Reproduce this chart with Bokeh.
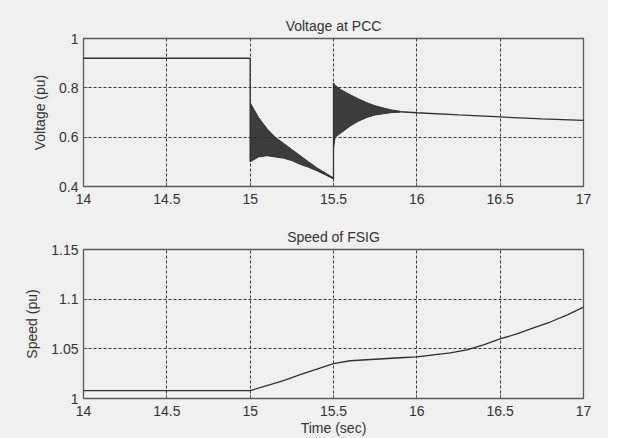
from bokeh.plotting import figure
from bokeh.models import FixedTicker
from bokeh.layouts import column
from bokeh.embed import file_html
from bokeh.resources import INLINE

# ---------------- data ----------------
x_ticks = [14.0, 14.5, 15.0, 15.5, 16.0, 16.5, 17.0]
x_tick_labels = ["14", "14.5", "15", "15.5", "16", "16.5", "17"]

v_ticks = [0.4, 0.6, 0.8, 1.0]
v_tick_labels = ["0.4", "0.6", "0.8", "1"]

s_ticks = [1.0, 1.05, 1.1, 1.15]
s_tick_labels = ["1", "1.05", "1.1", "1.15"]

# Voltage at PCC: pre-fault level
t_pre = [14.0, 15.0]
v_pre = [0.92, 0.92]

# oscillating burst after fault (envelope)
t_b1 = [15.0, 15.05, 15.1, 15.15, 15.2, 15.25, 15.3, 15.35, 15.4, 15.45, 15.5]
b1_hi = [0.74, 0.68, 0.635, 0.60, 0.575, 0.55, 0.525, 0.50, 0.476, 0.455, 0.435]
b1_lo = [0.50, 0.52, 0.525, 0.52, 0.515, 0.505, 0.49, 0.478, 0.464, 0.448, 0.43]

# oscillating burst after compensation (envelope)
t_b2 = [15.5, 15.51, 15.55, 15.6, 15.65, 15.7, 15.75, 15.8, 15.85, 15.9]
b2_hi = [0.82, 0.81, 0.79, 0.772, 0.755, 0.74, 0.727, 0.718, 0.71, 0.705]
b2_lo = [0.555, 0.60, 0.62, 0.645, 0.665, 0.68, 0.69, 0.695, 0.70, 0.701]

# steady state after oscillations
t_post = [15.9, 16.0, 16.25, 16.5, 16.75, 17.0]
v_post = [0.703, 0.699, 0.69, 0.682, 0.674, 0.668]

# Speed of FSIG
t_speed = [14.0, 15.0, 15.1, 15.2, 15.3, 15.4, 15.5, 15.6, 15.7, 15.8, 15.9,
           16.0, 16.1, 16.2, 16.3, 16.4, 16.5, 16.6, 16.7, 16.8, 16.9, 17.0]
speed = [1.008, 1.008, 1.013, 1.018, 1.024, 1.0295, 1.035, 1.038, 1.039, 1.040, 1.041,
         1.042, 1.044, 1.046, 1.049, 1.054, 1.060, 1.065, 1.071, 1.077, 1.084, 1.092]

# ---------------- style ----------------
BG = "#f0f0ee"
INK = "#303030"
FRAME = "#5a5a5a"
FONT = "Liberation Sans"


def style(p, yticks, ylabels, ylabel, xlabel=None):
    p.background_fill_color = BG
    p.border_fill_color = BG
    p.outline_line_color = FRAME
    p.outline_line_width = 1.3
    p.xaxis.ticker = FixedTicker(ticks=x_ticks)
    p.xaxis.major_label_overrides = dict(zip(x_ticks, x_tick_labels))
    p.yaxis.ticker = FixedTicker(ticks=yticks)
    p.yaxis.major_label_overrides = dict(zip(yticks, ylabels))
    for ax in (p.xaxis[0], p.yaxis[0]):
        ax.axis_line_color = None
        ax.major_tick_in = 4
        ax.major_tick_out = 0
        ax.major_tick_line_color = FRAME
        ax.minor_tick_line_color = None
        ax.major_label_text_font = FONT
        ax.major_label_text_font_size = "14px"
        ax.major_label_text_color = "#333333"
        ax.axis_label_text_font = FONT
        ax.axis_label_text_font_size = "14px"
        ax.axis_label_text_font_style = "normal"
        ax.axis_label_text_color = "#333333"
    p.xaxis.major_label_standoff = 7
    p.yaxis.major_label_standoff = 5
    p.yaxis.axis_label = ylabel
    p.yaxis.axis_label_standoff = 8
    if xlabel:
        p.xaxis.axis_label = xlabel
        p.xaxis.axis_label_standoff = 1
    p.grid.grid_line_color = "#3a3a3a"
    p.grid.grid_line_dash = "3 2"
    p.grid.grid_line_width = 1
    p.title.text_font = FONT
    p.title.text_font_size = "14px"
    p.title.text_font_style = "normal"
    p.title.text_color = "#333333"
    p.title.align = "center"
    p.title.standoff = 9


common = dict(width=608, output_backend="svg", toolbar_location=None,
              min_border_left=83, min_border_right=25)

p1 = figure(height=219, x_range=(14, 17), y_range=(0.4, 1.0),
            title="Voltage at PCC", min_border_top=38, min_border_bottom=33,
            **common)
style(p1, v_ticks, v_tick_labels, "Voltage (pu)")

p1.line(t_pre, v_pre, line_color=INK, line_width=1.3)
p1.segment(x0=[t_pre[-1]], y0=[v_pre[-1]], x1=[t_b1[0]], y1=[b1_lo[0]],
           line_color=INK, line_width=1.3)
p1.varea(x=t_b1, y1=b1_lo, y2=b1_hi, fill_color="#2e2e2e", fill_alpha=0.92)
p1.line(t_b1, b1_hi, line_color=INK, line_width=1)
p1.line(t_b1, b1_lo, line_color=INK, line_width=1)
p1.segment(x0=[t_b1[-1]], y0=[b1_lo[-1]], x1=[t_b2[0]], y1=[b2_hi[0]],
           line_color=INK, line_width=1.3)
p1.varea(x=t_b2, y1=b2_lo, y2=b2_hi, fill_color="#2e2e2e", fill_alpha=0.92)
p1.line(t_b2, b2_hi, line_color=INK, line_width=1)
p1.line(t_b2, b2_lo, line_color=INK, line_width=1)
p1.line(t_post, v_post, line_color=INK, line_width=1.3)

p2 = figure(height=219, x_range=(14, 17), y_range=(1.0, 1.15),
            title="Speed of FSIG", min_border_top=30, min_border_bottom=40,
            **common)
style(p2, s_ticks, s_tick_labels, "Speed (pu)", "Time (sec)")
p2.line(t_speed, speed, line_color=INK, line_width=1.3)

layout = column(p1, p2, spacing=0, styles={"background-color": BG})

html = file_html(layout, INLINE)
html = html.replace("<body>", '<body style="background-color:%s">' % BG, 1)
open("out.html", "w").write(html)
